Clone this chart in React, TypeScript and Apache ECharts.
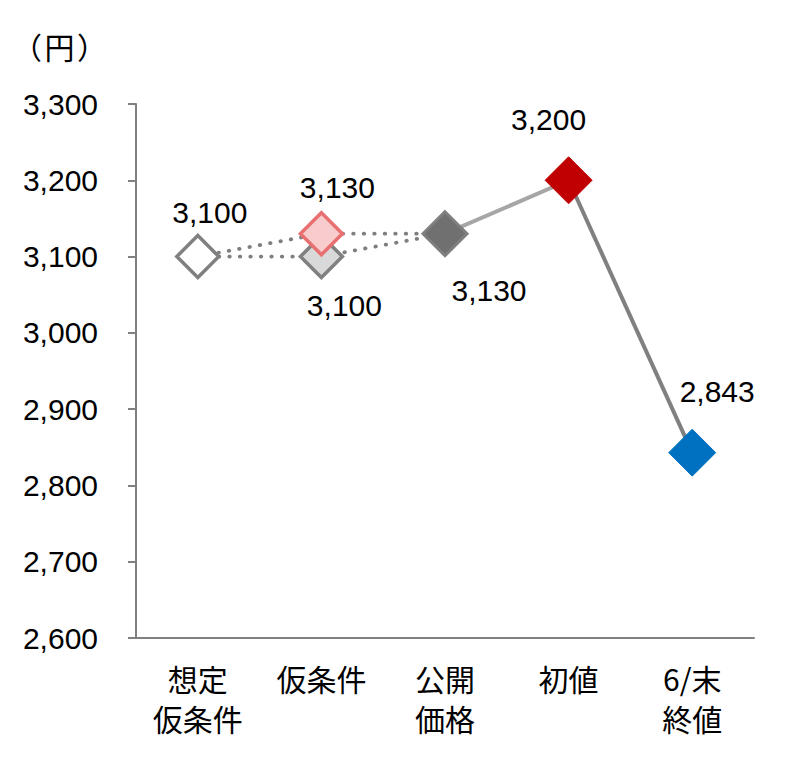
import React, { useEffect, useRef } from "react";
import * as echarts from "echarts";

const categories = ["想定\n仮条件", "仮条件", "公開\n価格", "初値", "6/末\n終値"];
const upperPath = [3100, 3130, 3130, null, null];
const lowerPath = [3100, 3100, 3130, null, null];
const risePath = [null, null, 3130, 3200, null];
const fallPath = [null, null, null, 3200, 2843];
const pointCats = [0, 1, 1, 2, 3, 4];
const pointValues = [3100, 3100, 3130, 3130, 3200, 2843];
const yTicks = { min: 2600, max: 3300, step: 100 };
const unitGlyphs = ["（", "円", "）"];

const pointStyles = [
  { fill: "#FFFFFF", border: "#808080", bw: 3.5, size: 42, offset: [12, -44] },
  { fill: "#D9D9D9", border: "#808080", bw: 3.5, size: 42, offset: [23, 49] },
  { fill: "#F8CCCC", border: "#E97070", bw: 3.5, size: 42, offset: [16, -46] },
  { fill: "#707070", border: "#7F7F7F", bw: 3, size: 44, offset: [44, 57] },
  { fill: "#C00000", border: "#C00000", bw: 1, size: 47, offset: [-20, -61] },
  { fill: "#0070C0", border: "#0070C0", bw: 1, size: 47, offset: [25, -61] },
];

const fmt = (v: number) => v.toLocaleString("en-US");
const FONT = "'Liberation Sans', Arial, 'Noto Sans CJK JP', sans-serif";
const CJK = "'Noto Sans CJK JP', sans-serif";

export default function App() {
  const ref = useRef<HTMLDivElement>(null);
  useEffect(() => {
    if (!ref.current) return;
    const chart = echarts.init(ref.current, null, { renderer: "svg" });
    const points = pointValues.map((v, i) => ({
      value: [pointCats[i], v],
      symbolSize: pointStyles[i].size,
      itemStyle: {
        color: pointStyles[i].fill,
        borderColor: pointStyles[i].border,
        borderWidth: pointStyles[i].bw,
        opacity: 1,
      },
      label: {
        show: true,
        position: "inside",
        offset: pointStyles[i].offset,
        formatter: () => fmt(v),
        color: "#000",
        fontSize: 30,
        fontFamily: FONT,
      },
    }));
    const dotted = (data: (number | null)[]) => ({
      type: "line",
      data,
      symbol: "none",
      connectNulls: false,
      lineStyle: { color: "#7F7F7F", width: 3.8, type: [0.5, 10], cap: "round", opacity: 1 },
      z: 2,
    });
    const unitX = [19, 51.5, 84];
    chart.setOption({
      animation: false,
      grid: { left: 128, right: 43, top: 96, bottom: 123 },
      graphic: unitGlyphs.map((g, i) => ({
        type: "text",
        x: unitX[i],
        y: 38,
        style: {
          text: g,
          fontSize: 30,
          fontFamily: CJK,
          fill: "#000",
          textAlign: "center",
          textVerticalAlign: "middle",
        },
      })),
      xAxis: {
        type: "category",
        data: categories,
        boundaryGap: true,
        axisLine: { lineStyle: { color: "#808080", width: 2 } },
        axisTick: { length: 8, lineStyle: { color: "#808080", width: 2 } },
        axisLabel: {
          color: "#000",
          fontSize: 30,
          lineHeight: 40,
          margin: 20,
          fontFamily: CJK,
          interval: 0,
        },
      },
      yAxis: {
        type: "value",
        min: yTicks.min,
        max: yTicks.max,
        interval: yTicks.step,
        axisLine: { show: true, lineStyle: { color: "#808080", width: 2 } },
        axisTick: { show: true, length: 8, lineStyle: { color: "#808080", width: 2 } },
        splitLine: { show: false },
        axisLabel: {
          color: "#000",
          fontSize: 30,
          margin: 38,
          fontFamily: FONT,
          formatter: (v: number) => fmt(v),
        },
      },
      series: [
        dotted(upperPath),
        dotted(lowerPath),
        {
          type: "line",
          data: risePath,
          symbol: "none",
          lineStyle: { color: "#A6A6A6", width: 4, opacity: 1 },
          z: 2,
        },
        {
          type: "line",
          data: fallPath,
          symbol: "none",
          lineStyle: { color: "#808080", width: 4, opacity: 1 },
          z: 2,
        },
        {
          type: "scatter",
          symbol: "diamond",
          data: points,
          itemStyle: { opacity: 1 },
          z: 5,
        },
      ],
    });
    return () => chart.dispose();
  }, []);
  return <div ref={ref} style={{ width: 789, height: 753 }} />;
}
